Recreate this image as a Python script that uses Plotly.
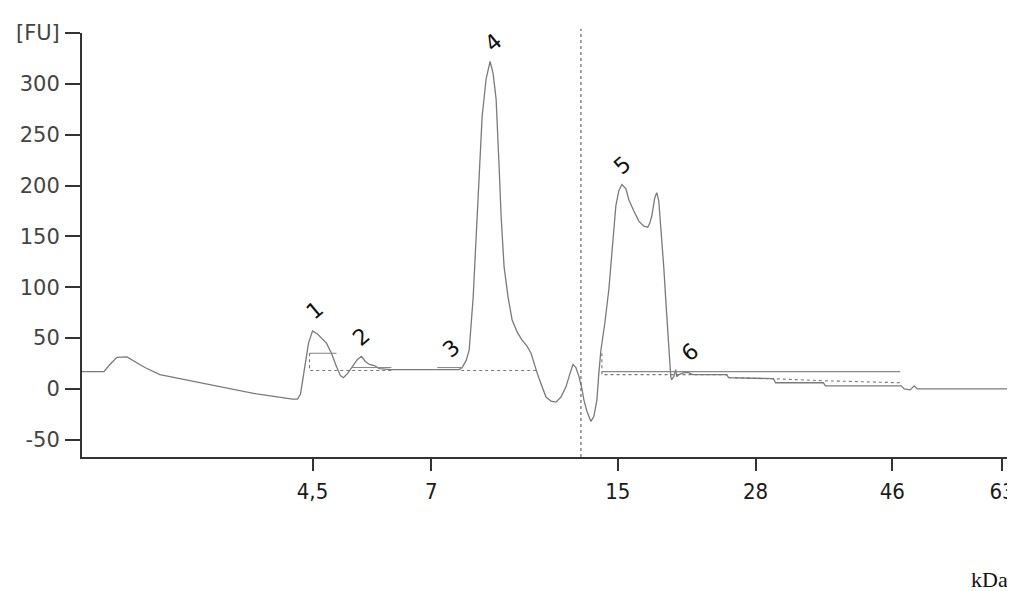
import plotly.graph_objects as go

# Electropherogram signal: migration position (arbitrary units) vs fluorescence [FU]
time = [0, 22, 28, 35, 45, 53, 63, 78, 98, 131, 175, 211, 216, 219, 223, 227, 231, 236,
        245, 250, 255, 259, 262, 266, 271, 276, 280, 284, 288, 293, 298, 310, 378, 381,
        385, 388, 392, 395, 398, 401, 405, 409, 412, 415, 418, 420, 423, 427, 431, 436,
        441, 446, 450, 453, 456, 460, 465, 470, 475, 480, 485, 489, 492, 495, 498, 501,
        503, 506, 510, 513, 516, 518, 520, 524, 528, 532, 535, 538, 541, 545, 548, 553,
        558, 563, 567, 569, 571, 574, 576, 578, 580, 583, 585, 588, 590, 591, 593, 595,
        596, 598, 601, 603, 608, 612, 646, 648, 693, 695, 743, 745, 821, 824, 830, 834,
        837, 933]
signal = [17, 17, 24, 31, 31.5, 27, 21, 14, 10, 4, -5, -10, -10, -5, 20, 45, 57, 54,
          45, 35, 22, 13, 11, 15, 22, 29, 32, 27, 24, 23, 20, 19, 19, 21,
          28, 38, 90, 154, 210, 268, 305, 322, 310, 285, 219, 170, 120, 90, 68, 56,
          48, 42, 35, 25, 16, 5, -8, -12, -13, -8, 2, 15, 24, 21, 12, 0,
          -11, -22, -32, -27, -11, 16, 38, 65, 98, 145, 180, 195, 201, 197, 186, 175,
          165, 160, 159, 163, 170, 188, 193, 185, 160, 120, 88, 45, 12, 9, 12, 19,
          12, 14, 15, 16, 16, 14, 14, 11, 10, 6, 6, 3, 3, 0, -1, 3,
          0, 0]

# Peak integration baselines (solid = peak level, dotted = baseline)
solid_segments = [
    ([228, 255], [35, 35]),
    ([270, 310], [21, 21]),
    ([356, 380], [21, 21]),
    ([521, 820], [17, 17]),
]
dotted_segments = [
    ([228, 228, 310], [35, 18, 18]),
    ([356, 380], [19, 19]),
    ([380, 455], [18, 18]),
    ([521, 521, 646, 648, 693, 743, 821], [35, 14, 14, 11, 10, 8, 6]),
]

# Peak labels
peak_labels = ["1", "2", "3", "4", "5", "6"]
peak_x = [233, 280, 370, 412, 541, 609]
peak_y = [77, 52, 40, 341, 220, 36]

# Axis ticks
x_tickvals = [231, 350, 537, 675, 812, 922]
x_ticktext = ["4,5", "7", "15", "28", "46", "63"]
y_tickvals = [-50, 0, 50, 100, 150, 200, 250, 300, 350]
y_ticktext = ["-50", "0", "50", "100", "150", "200", "250", "300", "[FU]"]
marker_line_x = 500

fig = go.Figure()

fig.add_trace(go.Scatter(x=time, y=signal, mode="lines",
                         line=dict(color="#7a7a7a", width=1.3), showlegend=False,
                         hoverinfo="skip"))

for xs, ys in solid_segments:
    fig.add_trace(go.Scatter(x=xs, y=ys, mode="lines",
                             line=dict(color="#8a8a8a", width=1.1), showlegend=False,
                             hoverinfo="skip"))
for xs, ys in dotted_segments:
    fig.add_trace(go.Scatter(x=xs, y=ys, mode="lines",
                             line=dict(color="#777777", width=1.1, dash="dot"),
                             showlegend=False, hoverinfo="skip"))

fig.add_shape(type="line", xref="x", yref="paper", x0=marker_line_x, x1=marker_line_x,
              y0=0, y1=1.01, line=dict(color="#666666", width=1.2, dash="dot"))

for lab, lx, ly in zip(peak_labels, peak_x, peak_y):
    fig.add_annotation(x=lx, y=ly, text=lab, showarrow=False, textangle=-40,
                       font=dict(family="DejaVu Sans", size=22, color="#111111"))

fig.add_annotation(xref="paper", yref="paper", x=0.953, y=-0.29, text="kDa",
                   showarrow=False, xanchor="left", yanchor="middle",
                   font=dict(family="Liberation Serif", size=22, color="#111111"))

fig.update_layout(
    width=1007, height=583,
    margin=dict(l=74, r=0, t=25, b=134),
    paper_bgcolor="white", plot_bgcolor="white",
    xaxis=dict(range=[0, 933], showgrid=False, zeroline=False,
               showline=True, linecolor="#333333", linewidth=2,
               ticks="outside", ticklen=12, tickwidth=2, tickcolor="#333333",
               tickvals=x_tickvals, ticktext=x_ticktext, ticklabelstandoff=2,
               ticklabeloverflow="allow",
               tickfont=dict(family="DejaVu Sans Condensed, DejaVu Sans",
                             size=22, color="#1a1a1a")),
    yaxis=dict(range=[-67, 350], showgrid=False, zeroline=False,
               showline=True, linecolor="#333333", linewidth=2,
               ticks="outside", ticklen=15, tickwidth=2, tickcolor="#333333",
               tickvals=y_tickvals, ticktext=y_ticktext, ticklabelstandoff=1,
               tickfont=dict(family="DejaVu Sans", size=21, color="#444444")),
)

fig.write_html("out.html")
